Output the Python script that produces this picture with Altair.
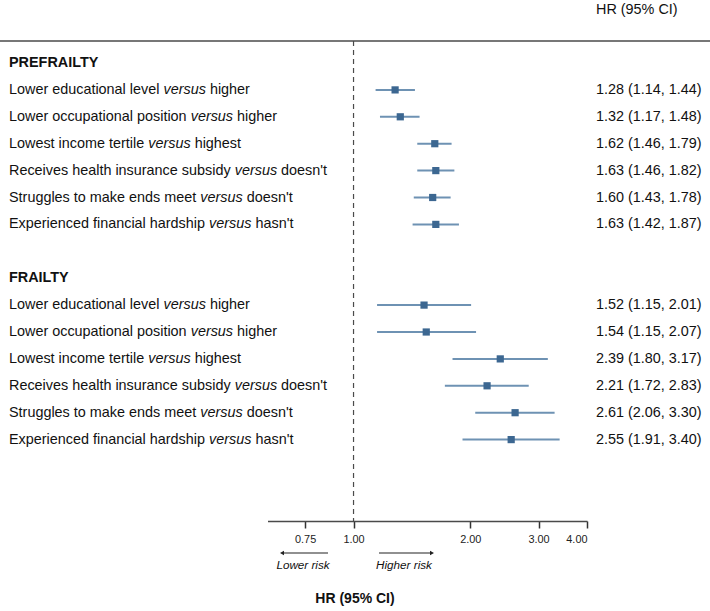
import altair as alt
import pandas as pd

# Exposures (left column) and their reference categories
exposures = [
    "Lower educational level",
    "Lower occupational position",
    "Lowest income tertile",
    "Receives health insurance subsidy",
    "Struggles to make ends meet",
    "Experienced financial hardship",
]
references = ["higher", "higher", "highest", "doesn't", "doesn't", "hasn't"]

# Hazard ratios with 95% CI
prefrailty_hr = [1.28, 1.32, 1.62, 1.63, 1.60, 1.63]
prefrailty_lo = [1.14, 1.17, 1.46, 1.46, 1.43, 1.42]
prefrailty_hi = [1.44, 1.48, 1.79, 1.82, 1.78, 1.87]

frailty_hr = [1.52, 1.54, 2.39, 2.21, 2.61, 2.55]
frailty_lo = [1.15, 1.15, 1.80, 1.72, 2.06, 1.91]
frailty_hi = [2.01, 2.07, 3.17, 2.83, 3.30, 3.40]

sections = ["PREFRAILTY", "FRAILTY"]
tick_values = [0.75, 1.0, 2.0, 3.0, 4.0]

FONT = "Liberation Sans"
FS = 14.4
BLUE_DARK = "#3c6791"
BLUE_LINE = "#6e92b3"
GREY = "#4a4a4a"

# Helvetica/Arial advance widths (1/1000 em) for laying out mixed-style labels
WIDTHS = {" ": 278, "'": 191}
for ch, w in zip("abcdefghijklmnopqrstuvwxyz",
                 [556, 556, 500, 556, 556, 278, 556, 556, 222, 222, 500, 222, 833,
                  556, 556, 556, 556, 333, 500, 278, 556, 500, 722, 500, 500, 500]):
    WIDTHS[ch] = w
WIDTHS.update({"E": 667, "L": 556, "R": 722, "S": 667})


def text_width(s, size=FS):
    return sum(WIDTHS.get(c, 556) for c in s) / 1000 * size


# Row layout: header, six rows, blank, header, six rows
rows = []
for sec_idx, (hr, lo, hi) in enumerate([
    (prefrailty_hr, prefrailty_lo, prefrailty_hi),
    (frailty_hr, frailty_lo, frailty_hi),
]):
    base_row = sec_idx * 8
    for i in range(6):
        x_versus = 9 + text_width(exposures[i] + " ")
        x_ref = x_versus + text_width("versus ")
        rows.append({
            "row": base_row + 1 + i,
            "prefix": exposures[i],
            "suffix": references[i],
            "x_versus": x_versus,
            "x_ref": x_ref,
            "hr": hr[i],
            "lo": lo[i],
            "hi": hi[i],
            "label": f"{hr[i]:.2f} ({lo[i]:.2f}, {hi[i]:.2f})",
        })
df = pd.DataFrame(rows)
headers = pd.DataFrame({"row": [0, 8], "name": sections})

x_scale = alt.Scale(type="log", domain=[0.6, 4.0], range=[267.5, 587], nice=False)
y_scale = alt.Scale(domain=[0, 17], range=[63, 520.3], nice=False, zero=False)
y_enc = alt.Y("row:Q", scale=y_scale, axis=None)

x_axis = alt.Axis(values=tick_values, format=".2f", title="HR (95% CI)",
                  labelFont=FONT, labelFontSize=10.9, labelColor="#222",
                  labelPadding=5, tickSize=7, tickWidth=1.5, tickColor="#333",
                  domainColor=GREY, domainWidth=1.5, grid=False,
                  titleFont=FONT, titleFontSize=14, titleFontWeight="bold",
                  titleColor="#111", titleX=354.5, titleY=77,
                  titleAlign="center", titleBaseline="middle")


def px(field):
    # pixel-positioned channel, no scale and no axis
    return alt.X(field, scale=None, axis=None)


base = alt.Chart(df)

ci = base.mark_rule(color=BLUE_LINE, strokeWidth=2).encode(
    x=alt.X("lo:Q", scale=x_scale, axis=x_axis),
    x2="hi:Q",
    y=y_enc,
)

points = base.mark_square(size=52, color=BLUE_DARK, opacity=1).encode(
    x=alt.X("hr:Q", scale=x_scale, axis=x_axis),
    y=y_enc,
)

ref_line = alt.Chart(pd.DataFrame({"v": [1.0]})).mark_rule(
    color=GREY, strokeWidth=1.2, strokeDash=[5, 4]
).encode(
    x=alt.X("v:Q", scale=x_scale, axis=x_axis),
    y=alt.value(41),
    y2=alt.value(521),
)

top_line = alt.Chart(pd.DataFrame({"v": [0]})).mark_rule(
    color=GREY, strokeWidth=1.5
).encode(x=alt.value(0), x2=alt.value(710), y=alt.value(41))

text_style = dict(font=FONT, fontSize=FS, color="#111", baseline="middle", align="left")

prefix_text = base.mark_text(**text_style).encode(
    x=alt.value(9), y=y_enc, text="prefix:N")
versus_text = base.mark_text(fontStyle="italic", **text_style).encode(
    x=px("x_versus:Q"), y=y_enc, text=alt.value("versus"))
suffix_text = base.mark_text(**text_style).encode(
    x=px("x_ref:Q"), y=y_enc, text="suffix:N")
hr_text = base.mark_text(**text_style).encode(
    x=alt.value(596), y=y_enc, text="label:N")

header_text = alt.Chart(headers).mark_text(fontWeight="bold", **text_style).encode(
    x=alt.value(9), y=y_enc, text="name:N")

col_title = alt.Chart(pd.DataFrame({"t": ["HR (95% CI)"]})).mark_text(**text_style).encode(
    x=alt.value(596), y=alt.value(10), text="t:N")

# Direction arrows under the axis
arrow_lines = alt.Chart(pd.DataFrame({
    "x1": [328, 379], "x2": [284, 430],
})).mark_rule(color="#222", strokeWidth=1.2).encode(
    x=px("x1:Q"), x2="x2:Q", y=alt.value(553))
arrow_left = alt.Chart(pd.DataFrame({"x": [282]})).mark_point(
    filled=True, size=22, color="#222", opacity=1, shape="triangle-left"
).encode(x=px("x:Q"), y=alt.value(553))
arrow_right = alt.Chart(pd.DataFrame({"x": [432]})).mark_point(
    filled=True, size=22, color="#222", opacity=1, shape="triangle-right"
).encode(x=px("x:Q"), y=alt.value(553))
risk_text = alt.Chart(pd.DataFrame({
    "x": [303, 404], "t": ["Lower risk", "Higher risk"],
})).mark_text(font=FONT, fontSize=11.7, fontStyle="italic", color="#111",
              baseline="middle", align="center").encode(
    x=px("x:Q"), y=alt.value(565), text="t:N")

chart = alt.layer(
    top_line, ref_line, ci, points, header_text, prefix_text, versus_text,
    suffix_text, hr_text, col_title, arrow_lines, arrow_left, arrow_right, risk_text,
).properties(
    width=710, height=521,
    padding={"left": 0, "top": 0, "right": 0, "bottom": 90},
    autosize=alt.AutoSizeParams(type="none"),
).configure(
    background="white",
    view=alt.ViewConfig(stroke="transparent", strokeWidth=0),
)

chart.save("out.html", embed_options={"renderer": "svg", "actions": False})
